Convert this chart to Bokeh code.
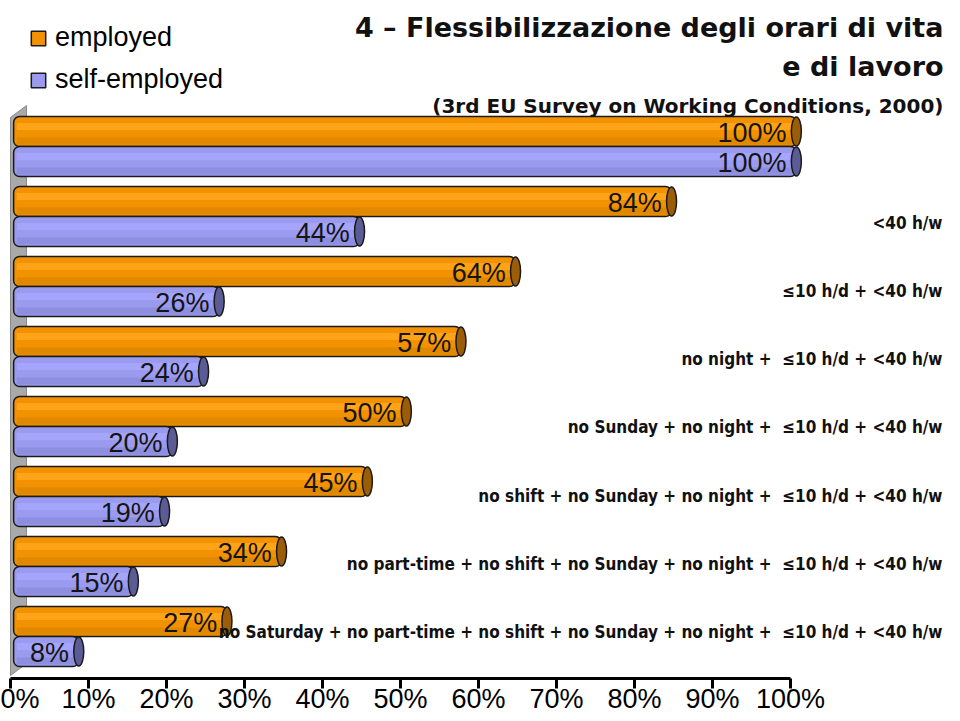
from bokeh.plotting import figure
from bokeh.models import Range1d, Legend, LegendItem, FixedTicker
from bokeh.core.properties import value
from bokeh.embed import file_html
from bokeh.resources import INLINE

# ---------------- data ----------------
conditions = [
    "",
    "<40 h/w",
    "\u226410 h/d + <40 h/w",
    "no night + \u00a0\u226410 h/d + <40 h/w",
    "no Sunday + no night + \u00a0\u226410 h/d + <40 h/w",
    "no shift + no Sunday + no night + \u00a0\u226410 h/d + <40 h/w",
    "no part-time + no shift + no Sunday + no night + \u00a0\u226410 h/d + <40 h/w",
    "no Saturday + no part-time + no shift + no Sunday + no night + \u00a0\u226410 h/d + <40 h/w",
]
employed = [100, 84, 64, 57, 50, 45, 34, 27]
self_employed = [100, 44, 26, 24, 20, 19, 15, 8]
tick_values = [0, 10, 20, 30, 40, 50, 60, 70, 80, 90, 100]
tick_labels = ["0%", "10%", "20%", "30%", "40%", "50%", "60%", "70%", "80%", "90%", "100%"]
series_names = ["employed", "self-employed"]

title_lines = ["4 \u2013 Flessibilizzazione degli orari di vita", "e di lavoro",
               "(3rd EU Survey on Working Conditions, 2000)"]

# ---------------- layout constants ----------------
W, FRAME_H = 944, 678
PX = 7.8                    # pixels per percent
ORIGIN = 10                 # pixel position of 0 %
X_START = -ORIGIN / PX
X_END = (W - ORIGIN) / PX
GROUP_TOP = 116
GROUP_PITCH = 70
BAR_H = 30
BAR_LEFT = 0.4
END_OFF = 0.75
CAP_W = 10 / PX
LABEL_TOP = 222
LABEL_PITCH = 68.3
TITLE_X = (943 - ORIGIN) / PX
TITLE_BASE = [27, 66, 105]
TITLE_SIZE = ["27px", "27px", "20px"]

COLORS = {
    "employed": dict(base="#f29200", light="#ffa418", dark="#e08800", cap="#9c5d08"),
    "self-employed": dict(base="#9a9aee", light="#a5a5fc", dark="#8e8ee0", cap="#5b5b96"),
}

p = figure(frame_width=W, frame_height=FRAME_H, output_backend="svg",
           toolbar_location=None, x_range=Range1d(X_START, X_END),
           y_range=Range1d(FRAME_H, 0), y_axis_location=None, min_border=0,
           outline_line_color=None, background_fill_color="white")
p.grid.visible = False

# 3D back wall
n = len(employed)
wall_top = GROUP_TOP + 1
wall_bot = GROUP_TOP + GROUP_PITCH * (n - 1) + 2 * BAR_H + 9
wall_depth = 16 / PX
p.patch(x=[0, wall_depth, wall_depth, 0],
        y=[wall_top, wall_top - 12, wall_bot - 12, wall_bot],
        fill_color="#a9a9a9", line_color="#8a8a8a", line_width=1)

body_renderers = {}
for s_idx, (name, vals) in enumerate(zip(series_names, [employed, self_employed])):
    c = COLORS[name]
    ys = [GROUP_TOP + GROUP_PITCH * i + BAR_H * s_idx + BAR_H / 2 for i in range(n)]
    rights = [v + END_OFF for v in vals]
    body = p.hbar(y=ys, left=BAR_LEFT, right=rights, height=BAR_H,
                  fill_color=c["base"], line_color="#1a1a1a", line_width=1.5,
                  border_radius=6)
    body_renderers[name] = body
    p.hbar(y=[y - 5 for y in ys], left=BAR_LEFT + 0.4, right=rights, height=7,
           fill_color=c["light"], line_color=None)
    p.hbar(y=[y + 9.5 for y in ys], left=BAR_LEFT + 0.4, right=rights, height=7,
           fill_color=c["dark"], line_color=None)
    p.ellipse(x=rights, y=ys, width=CAP_W, height=BAR_H - 1,
              fill_color=c["cap"], line_color="#1a1a1a", line_width=1.5)
    p.text(x=[v - 0.5 for v in vals], y=[y + 1 for y in ys],
           text=[f"{v}%" for v in vals], text_align="right", text_baseline="middle",
           text_font=value("Liberation Sans"), text_font_size="27px",
           text_color="#141414")

# category descriptions on the right
lab_y = [LABEL_TOP + LABEL_PITCH * (i - 1) for i in range(1, n)]
p.text(x=[(942 - ORIGIN) / PX] * (n - 1), y=lab_y, text=conditions[1:],
       text_align="right", text_baseline="middle",
       text_font=value("DejaVu Sans Condensed"), text_font_style="bold",
       text_font_size="17px", text_color="#111111")

# titles
for txt, yb, size in zip(title_lines, TITLE_BASE, TITLE_SIZE):
    p.text(x=[TITLE_X], y=[yb], text=[txt], text_align="right",
           text_baseline="alphabetic", text_font=value("DejaVu Sans"),
           text_font_style="bold", text_font_size=size, text_color="#111111")

# x axis
ax = p.xaxis[0]
ax.ticker = FixedTicker(ticks=tick_values)
ax.major_label_overrides = {t: l for t, l in zip(tick_values, tick_labels)}
ax.bounds = (0, 100)
ax.axis_line_width = 3
ax.axis_line_color = "black"
ax.major_tick_line_width = 3
ax.major_tick_line_color = "black"
ax.major_tick_out = 10
ax.major_tick_in = 0
ax.minor_tick_line_color = None
ax.major_label_standoff = -5
ax.major_label_text_font = "Liberation Sans"
ax.major_label_text_font_size = "27px"
ax.major_label_text_color = "black"

# legend
legend = Legend(items=[LegendItem(label=nm, renderers=[body_renderers[nm]]) for nm in series_names],
                location=(29, FRAME_H - 95), orientation="vertical",
                glyph_width=18, glyph_height=18, label_height=30, spacing=11,
                label_standoff=8, padding=0, margin=0,
                border_line_color=None, background_fill_alpha=0,
                label_text_font="Liberation Sans", label_text_font_size="27px",
                label_text_color="black")
p.add_layout(legend)

open("out.html", "w").write(file_html(p, INLINE))
